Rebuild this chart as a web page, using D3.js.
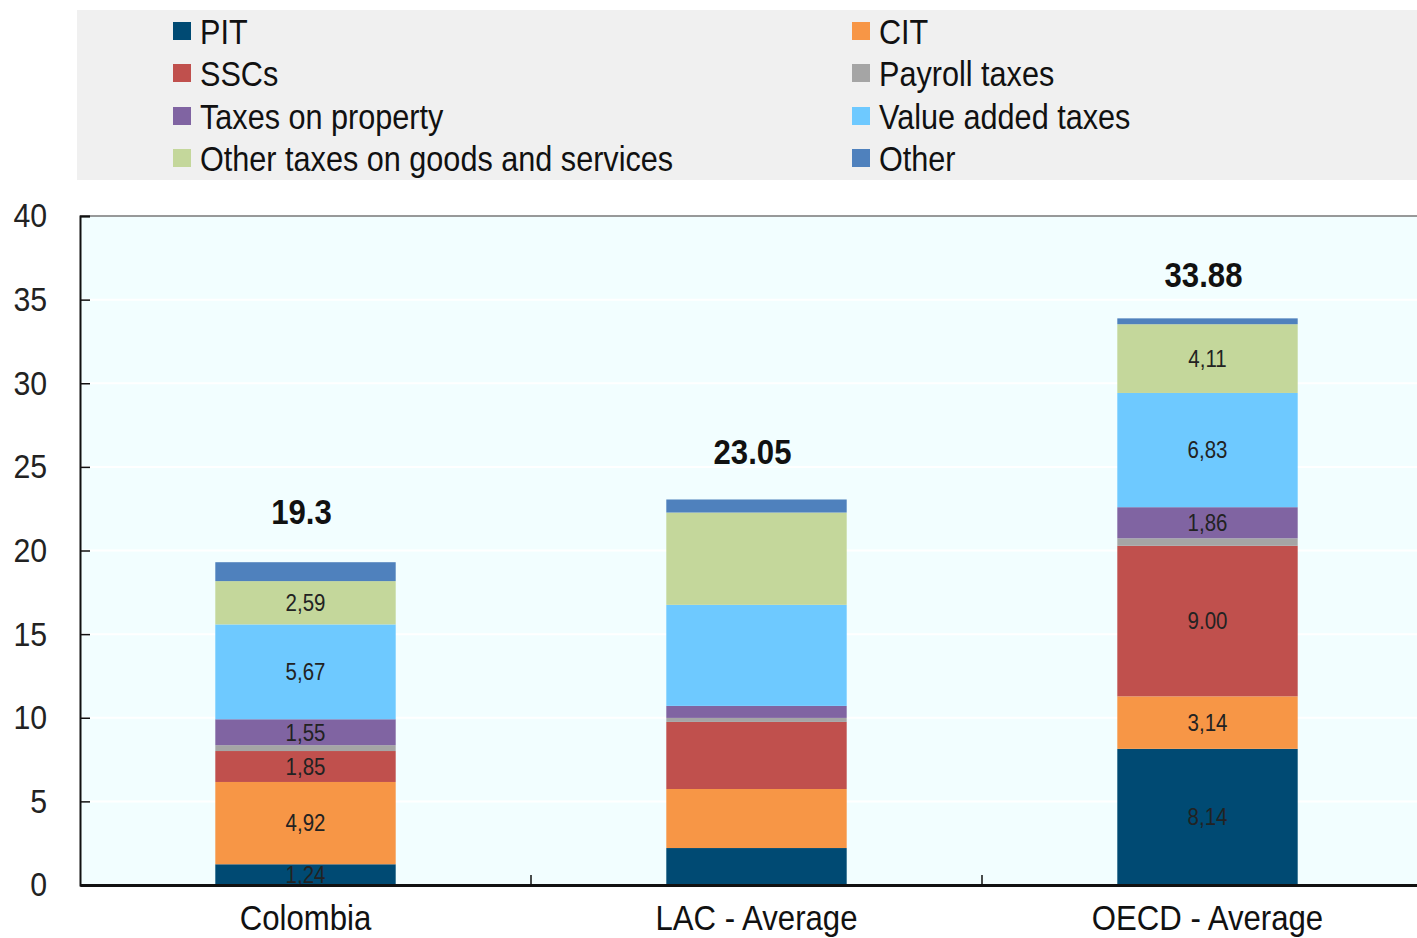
<!DOCTYPE html>
<html><head><meta charset="utf-8">
<script src="https://cdn.jsdelivr.net/npm/d3@7"></script>
<style>
body{margin:0;background:#fff;}
svg{display:block;font-family:"Liberation Sans Narrow","Arial Narrow","Liberation Sans",sans-serif;}
</style></head>
<body><svg id="c" width="1417" height="938"></svg>
<script>
const categories = ["Colombia", "LAC - Average", "OECD - Average"];
const seriesNames = ["PIT", "CIT", "SSCs", "Payroll taxes", "Taxes on property", "Value added taxes", "Other taxes on goods and services", "Other"];
const colors = ["#004a73", "#f79646", "#c0504d", "#a5a5a5", "#8064a2", "#6ec9ff", "#c4d79b", "#4f81bd"];
const colombia = [1.24, 4.92, 1.85, 0.35, 1.55, 5.67, 2.59, 1.13];
const lac = [2.21, 3.53, 4.01, 0.24, 0.72, 6.04, 5.52, 0.78];
const oecd = [8.14, 3.14, 9.00, 0.45, 1.86, 6.83, 4.11, 0.35];
const segLabels = [
  ["1,24", "4,92", "1,85", "", "1,55", "5,67", "2,59", ""],
  ["", "", "", "", "", "", "", ""],
  ["8,14", "3,14", "9.00", "", "1,86", "6,83", "4,11", ""]
];
const totals = ["19.3", "23.05", "33.88"];
const yTicks = [0, 5, 10, 15, 20, 25, 30, 35, 40];

const values = [colombia, lac, oecd];
const svg = d3.select("#c");
const mLeft = 80, mRight = 1433, mTop = 216, mBottom = 885;
const SX = 0.89;

const x = d3.scaleBand().domain(categories).range([mLeft, mRight]).paddingInner(0).paddingOuter(0);
const y = d3.scaleLinear().domain([0, 40]).range([mBottom, mTop]);

function narrowText(parent, tx, ty, str, size, anchor, weight, sx) {
  return parent.append("text")
    .attr("transform", `translate(${tx},${ty}) scale(${sx || SX},1)`)
    .attr("dy", "0.36em").attr("text-anchor", anchor || "start")
    .attr("font-size", size).attr("font-weight", weight || "normal")
    .attr("fill", "#111").text(str);
}

// legend background
svg.append("rect").attr("x", 77).attr("y", 10).attr("width", 1340).attr("height", 170).attr("fill", "#f0f0f0");
const legCols = [173, 852];
const legRows = [31, 73, 116, 158];
seriesNames.forEach((n, i) => {
  const cx = legCols[i % 2], cy = legRows[Math.floor(i / 2)];
  svg.append("rect").attr("x", cx).attr("y", cy - 9).attr("width", 18).attr("height", 18).attr("fill", colors[i]);
  narrowText(svg, cx + 27, cy, n, 35, "start", "normal", 0.875);
});

// plot bg
svg.append("rect").attr("x", mLeft).attr("y", mTop).attr("width", mRight - mLeft).attr("height", mBottom - mTop).attr("fill", "#f2feff");
// grid
svg.append("g").selectAll("line").data(yTicks.slice(1, -1)).join("line")
  .attr("x1", mLeft).attr("x2", mRight).attr("y1", d => y(d)).attr("y2", d => y(d))
  .attr("stroke", "#ffffff").attr("stroke-width", 2);
svg.append("line").attr("x1", mLeft).attr("x2", mRight).attr("y1", mTop).attr("y2", mTop).attr("stroke", "#777").attr("stroke-width", 1.5);

// bars
const stack = d3.stack().keys(d3.range(seriesNames.length)).value((d, k) => d[k]);
const stacked = stack(values);
const bw = x.bandwidth() * 0.4;
stacked.forEach((layer, si) => {
  layer.forEach((seg, ci) => {
    const cx = x(categories[ci]) + x.bandwidth() / 2;
    svg.append("rect").attr("x", cx - bw / 2).attr("y", y(seg[1])).attr("width", bw)
      .attr("height", y(seg[0]) - y(seg[1])).attr("fill", colors[si]);
    const lab = segLabels[ci][si];
    if (lab) {
      narrowText(svg, cx, (y(seg[0]) + y(seg[1])) / 2, lab, 23, "middle").attr("fill", "#222");
    }
  });
});
// totals
const totalOffsets = [51, 48, 44];
categories.forEach((c, ci) => {
  const cx = x(c) + x.bandwidth() / 2;
  const sum = d3.sum(values[ci]);
  narrowText(svg, cx - 4, y(sum) - totalOffsets[ci], totals[ci], 35, "middle", "bold");
});

// y axis
const yAxis = d3.axisLeft(y).tickValues(yTicks).tickSize(-10).tickPadding(37).tickFormat(d3.format("d"));
const gy = svg.append("g").attr("transform", `translate(${mLeft},0)`).call(yAxis);
gy.select(".domain").attr("stroke", "#111").attr("stroke-width", 2);
gy.selectAll(".tick line").attr("stroke", "#111").attr("stroke-width", 1.5);
gy.selectAll(".tick text").attr("font-size", 34).attr("fill", "#222")
  .attr("font-family", "Liberation Sans Narrow, Arial Narrow, Liberation Sans, sans-serif")
  .attr("transform", `scale(${SX},1)`);

// x axis
const xAxis = d3.axisBottom(x).tickSize(0).tickPadding(20);
const gx = svg.append("g").attr("transform", `translate(0,${mBottom})`).call(xAxis);
gx.select(".domain").attr("stroke", "#111").attr("stroke-width", 3);
gx.selectAll(".tick text").attr("font-size", 35).attr("fill", "#111")
  .attr("font-family", "Liberation Sans Narrow, Arial Narrow, Liberation Sans, sans-serif")
  .attr("transform", `scale(${SX},1)`);
// category separators
svg.append("g").selectAll("line").data(categories.slice(1)).join("line")
  .attr("x1", d => x(d)).attr("x2", d => x(d)).attr("y1", mBottom).attr("y2", mBottom - 10)
  .attr("stroke", "#111").attr("stroke-width", 1.5);
</script></body></html>
